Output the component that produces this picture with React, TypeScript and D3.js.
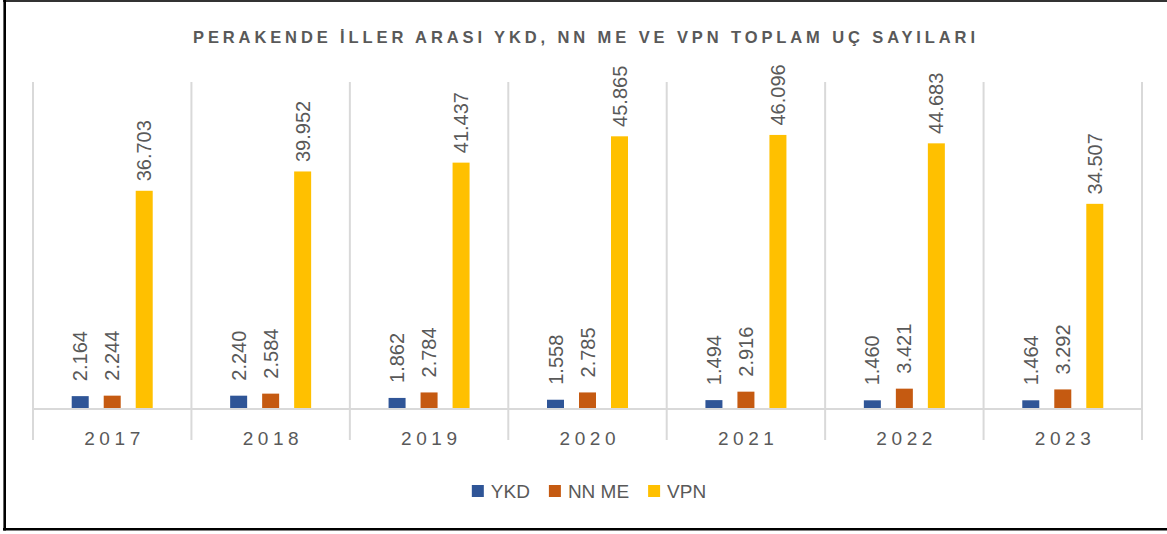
import React from "react";
import * as d3 from "d3";

const years = ["2017", "2018", "2019", "2020", "2021", "2022", "2023"];
const seriesNames = ["YKD", "NN ME", "VPN"];
const ykd = [2164, 2240, 1862, 1558, 1494, 1460, 1464];
const nnme = [2244, 2584, 2784, 2785, 2916, 3421, 3292];
const vpn = [36703, 39952, 41437, 45865, 46096, 44683, 34507];
const colors = ["#2F5597", "#C55A11", "#FFC000"];
const title = "PERAKENDE İLLER ARASI YKD, NN ME VE VPN TOPLAM UÇ SAYILARI";

const W = 1167;
const H = 534;
const plotLeft = 33;
const plotRight = 1142;
const plotTop = 82;
const plotBottom = 409;
const gray = "#595959";
const gridGray = "#D9D9D9";
const fontFamily = "'Liberation Sans', Arial, sans-serif";

function measure(text: string, font: string): number {
  const c = document.createElement("canvas").getContext("2d");
  if (!c) return text.length * 10;
  c.font = font;
  return c.measureText(text).width;
}

export default function App() {
  const values = [ykd, nnme, vpn];
  const x0 = d3.scaleBand<string>().domain(years).range([plotLeft, plotRight]).padding(0);
  const groupW = 81;
  const inner = d3
    .scaleBand<string>()
    .domain(seriesNames)
    .range([0, groupW])
    .paddingInner(15 / 32)
    .paddingOuter(0);
  const y = d3.scaleLinear().domain([0, 55000]).range([plotBottom, plotTop]);
  const fmt = (v: number) => d3.format(",")(v).replace(/,/g, ".");

  const legendFont = `19px ${fontFamily}`;
  const sq = 12;
  const sqGap = 7;
  const itemGap = 19;
  const widths = seriesNames.map((n) => sq + sqGap + measure(n, legendFont));
  const total = d3.sum(widths) + itemGap * (seriesNames.length - 1);
  let lx = 589 - total / 2;
  const legendItems = seriesNames.map((n, i) => {
    const item = { name: n, x: lx, color: colors[i] };
    lx += widths[i] + itemGap;
    return item;
  });
  const legendY = 491;

  const boundaries = [...years.map((yr) => x0(yr) as number), plotRight];

  return (
    <svg
      width={W}
      height={H}
      style={{ position: "absolute", left: 0, top: 0, background: "#fff" }}
      fontFamily={fontFamily}
    >
      <rect x={0} y={0} width={W} height={H} fill="#fff" />
      {/* border */}
      <line x1={3} x2={W} y1={1} y2={1} stroke="#333" strokeWidth={2} />
      <line x1={4.7} x2={4.7} y1={0} y2={530.5} stroke="#000" strokeWidth={2.6} />
      <line x1={3} x2={W} y1={529.3} y2={529.3} stroke="#000" strokeWidth={2.4} />

      {/* title */}
      <text
        x={584}
        y={43}
        textAnchor="middle"
        fontSize={16.5}
        fontWeight="bold"
        fill={gray}
        textLength={782}
        lengthAdjust="spacing"
      >
        {title}
      </text>

      {/* vertical separators */}
      {boundaries.map((bx, i) => (
        <line key={i} x1={bx} x2={bx} y1={plotTop} y2={440} stroke={gridGray} strokeWidth={2} />
      ))}
      {/* axis line */}
      <line x1={plotLeft} x2={plotRight} y1={plotBottom} y2={plotBottom} stroke={gridGray} strokeWidth={2} />

      {/* bars */}
      {years.map((yr, yi) => {
        const gx = (x0(yr) as number) + (x0.bandwidth() - groupW) / 2;
        return (
          <g key={yr}>
            {seriesNames.map((s, si) => {
              const v = values[si][yi];
              const bx = gx + (inner(s) as number);
              const bw = inner.bandwidth();
              const top = y(v);
              return (
                <g key={s}>
                  <rect x={bx} y={top} width={bw} height={plotBottom - 1 - top} fill={colors[si]} />
                  <text
                    transform={`translate(${bx + bw / 2},${top - 40}) rotate(-90)`}
                    textAnchor="middle"
                    dy="0.35em"
                    fontSize={20}
                    fill={gray}
                  >
                    {fmt(v)}
                  </text>
                </g>
              );
            })}
            <text
              x={(x0(yr) as number) + x0.bandwidth() / 2}
              y={445}
              textAnchor="middle"
              fontSize={19}
              fill={gray}
              textLength={56}
              lengthAdjust="spacing"
            >
              {yr}
            </text>
          </g>
        );
      })}

      {/* legend */}
      {legendItems.map((it) => (
        <g key={it.name}>
          <rect x={it.x} y={legendY - 6} width={sq} height={sq} fill={it.color} />
          <text x={it.x + sq + sqGap} y={legendY + 7} fontSize={19} fill={gray}>
            {it.name}
          </text>
        </g>
      ))}
    </svg>
  );
}
